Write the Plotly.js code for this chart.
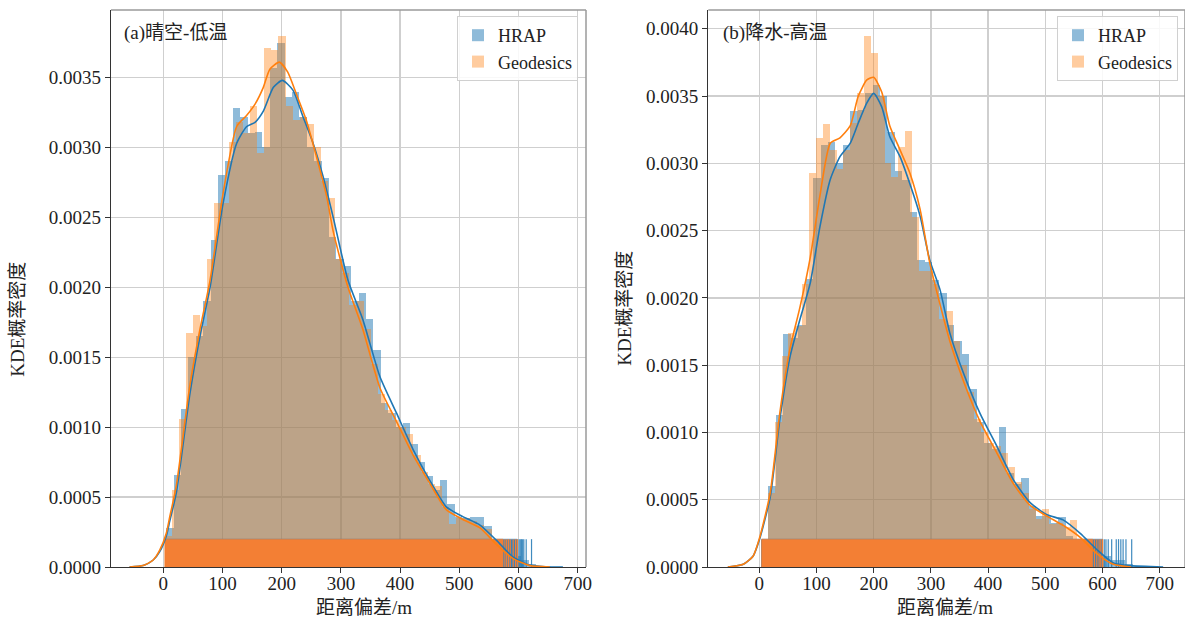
<!DOCTYPE html>
<html><head><meta charset="utf-8">
<script src="https://cdn.plot.ly/plotly-3.0.1.min.js"></script>
<style>html,body{margin:0;padding:0;background:#fff;}#chart{width:1185px;height:620px;}</style>
</head><body><div id="chart"></div>
<script>
// ---------------- data ----------------
const seriesNames = ['HRAP', 'Geodesics'];
const panelLabels = ['(a)晴空-低温', '(b)降水-高温'];
const xTitle = '距离偏差/m';
const yTitle = 'KDE概率密度';
const xTickVals = [0, 100, 200, 300, 400, 500, 600, 700];

// Panel (a): histogram bins (first left edge, bin width) and densities
const aHrapStart = 5, aHrapWidth = 12.5;
const aHrapDensity = [0.00028,0.00066,0.00113,0.0015,0.00165,0.0019,0.00234,0.0028,0.0029,0.00328,
  0.00322,0.0031,0.00311,0.0030,0.00357,0.00375,0.00336,0.0034,0.00322,0.0030,
  0.0029,0.00278,0.00236,0.0022,0.00215,0.0019,0.00196,0.00177,0.00155,0.00117,
  0.0011,0.0010,0.00103,0.00088,0.00075,0.00065,0.00055,0.00062,0.00045,0.00036,
  0.00035,0.00036,0.00036,0.00029,0.00018,0.00012,0.00008,0.00008,0.00005,0.00002];
const aGeoStart = 2.5, aGeoWidth = 12;
const aGeoDensity = [0.00022,0.00055,0.00106,0.00167,0.0018,0.00172,0.0022,0.0026,0.0026,0.00304,
  0.00318,0.0031,0.0033,0.00296,0.00371,0.0037,0.0038,0.0033,0.0032,0.00322,
  0.00317,0.0030,0.00276,0.00264,0.0022,0.0021,0.00187,0.0019,0.0017,0.00145,
  0.00124,0.00112,0.00105,0.0010,0.00095,0.0008,0.00068,0.00059,0.00058,0.00043,
  0.00031,0.00035,0.00035,0.00033,0.0003,0.00027,0.00018,0.0001,0.00008,0.00005];

// Panel (a): KDE curves
const aHrapKdeX = [-57,-34,-17,-6,5,11,22,45,62,79,101,124,141,155,169,186,201,219,236,253,270,287,312,337,366,394,422,450,478,506,535,563,591,619,645,675];
const aHrapKdeY = [0,0.00001,0.00005,0.00011,0.00022,0.00033,0.00053,0.00124,0.00165,0.002,0.0026,0.00303,0.00315,0.00318,0.00326,0.00343,0.00348,0.00341,0.00322,0.00303,0.00279,0.0025,0.00205,0.00177,0.00136,0.0011,0.00084,0.00062,0.00043,0.00036,0.0003,0.00019,0.00007,0.000014,0.000002,0];
const aGeoKdeX = [-57,-34,-17,-6,5,11,22,45,62,79,101,124,141,155,169,180,196,210,225,242,259,276,287,312,337,366,394,422,450,478,506,535,563,591,619,653];
const aGeoKdeY = [0,0.00001,0.00005,0.00012,0.00024,0.00036,0.00058,0.0013,0.0017,0.00205,0.00267,0.00315,0.00323,0.00331,0.00343,0.00356,0.00361,0.00354,0.00338,0.00319,0.00293,0.00265,0.0024,0.002,0.0017,0.00128,0.00104,0.0008,0.0006,0.00041,0.00034,0.00028,0.00016,0.00006,0.00001,0];

// Panel (a): rug (dense span + sparse tail observations)
const aHrapRugSpan = [5, 598];
const aHrapRugTail = [601,603,605,607,609,613,622];
const aGeoRugSpan = [2.5, 574];
const aGeoRugTail = [577,580,583,586,591,595,598];

// Panel (b): histograms
const bHrapStart = 3, bHrapWidth = 13;
const bHrapDensity = [0.0002,0.0006,0.00113,0.00173,0.0017,0.0018,0.00214,0.00289,0.00314,0.00316,
  0.0030,0.00314,0.00339,0.0034,0.00352,0.00358,0.0035,0.00323,0.00294,0.00288,
  0.00264,0.00228,0.00227,0.00213,0.00204,0.0018,0.00168,0.00158,0.00132,0.00108,
  0.00092,0.00088,0.00104,0.0007,0.00062,0.00066,0.00045,0.00038,0.00038,0.00033,
  0.00037,0.00023,0.0002,0.00012,0.0001,0.00006,0.00008,0.00005,0.00005,0.00002];
const bGeoStart = 3, bGeoWidth = 12;
const bGeoDensity = [0.0002,0.00055,0.00108,0.00157,0.00174,0.00179,0.0021,0.00293,0.00319,0.00329,
  0.0031,0.00296,0.0031,0.0033,0.00352,0.00395,0.00382,0.0035,0.0030,0.0029,
  0.00312,0.00324,0.0026,0.0022,0.0022,0.0021,0.00184,0.0019,0.00168,0.0015,
  0.0013,0.0011,0.0010,0.00092,0.0009,0.00085,0.00074,0.00063,0.00055,0.00043,
  0.00036,0.00043,0.00032,0.00033,0.0003,0.00035,0.00018,0.00012,0.00008,0.00005];

// Panel (b): KDE curves
const bHrapKdeX = [-55,-28,-11,0,19,36,54,71,89,106,124,141,159,173,188,200,214,228,246,263,281,298,316,333,357,386,415,444,473,502,531,561,590,619,648,706];
const bHrapKdeY = [0,0.00002,0.00008,0.0002,0.00052,0.0011,0.00157,0.00184,0.00211,0.00253,0.00288,0.00305,0.00315,0.0033,0.00345,0.00352,0.00342,0.0032,0.00305,0.00285,0.00261,0.00228,0.00206,0.00174,0.00144,0.00114,0.0009,0.00065,0.00048,0.00039,0.00035,0.00025,0.00013,0.00003,0.00001,0];
const bGeoKdeX = [-55,-28,-11,0,19,36,54,71,89,106,124,141,159,173,188,200,214,228,246,263,281,298,313,333,357,386,415,444,473,502,531,561,590,619,650];
const bGeoKdeY = [0,0.00002,0.00008,0.00021,0.00055,0.00115,0.00163,0.00193,0.0023,0.00276,0.00315,0.00319,0.00328,0.0035,0.00362,0.00364,0.00353,0.00328,0.0031,0.00293,0.00266,0.00226,0.002,0.00168,0.00138,0.00108,0.00085,0.00062,0.00046,0.00038,0.00031,0.00022,0.0001,0.00002,0];

// Panel (b): rug
const bHrapRugSpan = [4, 600];
const bHrapRugTail = [603,606,610,616,624,628,632,636,641,651];
const bGeoRugSpan = [4, 583];
const bGeoRugTail = [586,590,594,597,600];

// ---------------- styles ----------------
const FONT = '"Liberation Serif", "Noto Sans CJK SC", serif';
const BLUE = '#1f77b4', ORANGE = '#ff7f0e';
const BLUE_FILL = 'rgba(31,119,180,0.5)', ORANGE_FILL = 'rgba(255,127,14,0.4)';
const RUG_ORANGE = 'rgb(243,127,52)', RUG_BLUE = 'rgba(31,119,180,0.85)';
const W = 1185, H = 620, MT = 10, MB = 52.5;
const plotH = H - MT - MB;
const px2x = px => px / W;
const py2y = py => 1 - (py - MT) / plotH;

const panels = [
  {xa:'x', ya:'y', legend:'legend', yMax:0.003983, xRange:[-88.3, 714], dom:[111/W, 586/W],
   hist:[[aHrapStart,aHrapWidth,aHrapDensity],[aGeoStart,aGeoWidth,aGeoDensity]],
   kde:[[aHrapKdeX,aHrapKdeY],[aGeoKdeX,aGeoKdeY]],
   rug:[[aHrapRugSpan,aHrapRugTail],[aGeoRugSpan,aGeoRugTail]]},
  {xa:'x2', ya:'y2', legend:'legend2', yMax:0.00414, xRange:[-89.2, 744.2], dom:[708.3/W, 1],
   hist:[[bHrapStart,bHrapWidth,bHrapDensity],[bGeoStart,bGeoWidth,bGeoDensity]],
   kde:[[bHrapKdeX,bHrapKdeY],[bGeoKdeX,bGeoKdeY]],
   rug:[[bHrapRugSpan,bHrapRugTail],[bGeoRugSpan,bGeoRugTail]]}
];

const fills = [BLUE_FILL, ORANGE_FILL];
const lines = [BLUE, ORANGE];
const rugCols = [RUG_BLUE, RUG_ORANGE];

const traces = [];
panels.forEach(p => {
  const rugH = 0.05 * p.yMax;
  p.hist.forEach(([start, width, dens], s) => {
    traces.push({type:'bar', x: dens.map((_, i) => start + width * (i + 0.5)), y: dens,
      width: width, name: seriesNames[s], xaxis: p.xa, yaxis: p.ya, legend: p.legend,
      marker:{color: fills[s], line:{width:0}}, hoverinfo:'skip'});
  });
  p.rug.forEach(([span, tail], s) => {
    traces.push({type:'scatter', mode:'lines', x:[span[0], span[0], span[1], span[1], span[0]],
      y:[0, rugH, rugH, 0, 0], fill:'toself', fillcolor: s ? RUG_ORANGE : 'rgb(60,130,185)',
      line:{width:0.5, color: s ? RUG_ORANGE : 'rgb(60,130,185)'}, showlegend:false,
      xaxis:p.xa, yaxis:p.ya, hoverinfo:'skip'});
    const xs = [], ys = [];
    tail.forEach(v => { xs.push(v, v, null); ys.push(0, rugH, null); });
    traces.push({type:'scatter', mode:'lines', x: xs, y: ys, line:{width:1.2, color: rugCols[s]},
      showlegend:false, xaxis:p.xa, yaxis:p.ya, hoverinfo:'skip'});
  });
  p.kde.forEach(([kx, ky], s) => {
    traces.push({type:'scatter', mode:'lines', x: kx, y: ky, line:{color: lines[s], width:1.6, shape:'spline', smoothing:0.6},
      showlegend:false, xaxis:p.xa, yaxis:p.ya, hoverinfo:'skip'});
  });
});

const axisBase = {showgrid:true, gridcolor:'#cfcfcf', gridwidth:1.3, zeroline:false,
  showline:true, linecolor:'#333', linewidth:1.2, ticks:'outside', ticklen:5, tickcolor:'#333',
  tickfont:{family:FONT, size:19, color:'#222'}, fixedrange:true};

const legendBase = {bgcolor:'rgba(255,255,255,0.85)', bordercolor:'#d0d0d0', borderwidth:1,
  font:{family:FONT, size:18, color:'#222'}, yanchor:'top', xanchor:'right', tracegroupgap:0, itemwidth:30};

const annotations = [
  {text: panelLabels[0], xref:'paper', yref:'paper', x:px2x(122), y:py2y(33), xanchor:'left', yanchor:'middle', showarrow:false, font:{family:FONT, size:19, color:'#222'}},
  {text: panelLabels[1], xref:'paper', yref:'paper', x:px2x(721), y:py2y(33), xanchor:'left', yanchor:'middle', showarrow:false, font:{family:FONT, size:19, color:'#222'}},
  {text: xTitle, xref:'paper', yref:'paper', x:px2x(364), y:py2y(608), xanchor:'center', yanchor:'middle', showarrow:false, font:{family:FONT, size:19, color:'#222'}},
  {text: xTitle, xref:'paper', yref:'paper', x:px2x(945), y:py2y(608), xanchor:'center', yanchor:'middle', showarrow:false, font:{family:FONT, size:19, color:'#222'}},
  {text: yTitle, xref:'paper', yref:'paper', x:px2x(18), y:py2y(320), xanchor:'center', yanchor:'middle', textangle:-90, showarrow:false, font:{family:FONT, size:19, color:'#222'}},
  {text: yTitle, xref:'paper', yref:'paper', x:px2x(625), y:py2y(309), xanchor:'center', yanchor:'middle', textangle:-90, showarrow:false, font:{family:FONT, size:19, color:'#222'}}
];

const shapes = [];
[['x domain','y domain'],['x2 domain','y2 domain']].forEach(([xr, yr]) => {
  shapes.push({type:'line', xref:xr, yref:yr, x0:0, x1:1, y0:1, y1:1, line:{color:'#9a9a9a', width:1.5}, layer:'above'});
  shapes.push({type:'line', xref:xr, yref:yr, x0:1, x1:1, y0:0, y1:1, line:{color:'#9a9a9a', width:1.5}, layer:'above'});
});

const xExtra = {tickvals:xTickVals, ticklabelstandoff:-6};
const layout = {
  width:W, height:H, margin:{l:0, r:0, t:MT, b:MB, pad:0},
  paper_bgcolor:'#fff', plot_bgcolor:'#fff',
  font:{family:FONT, size:19, color:'#222'},
  barmode:'overlay', bargap:0, showlegend:true,
  xaxis: Object.assign({}, axisBase, xExtra, {domain:panels[0].dom, range:panels[0].xRange, anchor:'y'}),
  yaxis: Object.assign({}, axisBase, {domain:[0,1], range:[0, panels[0].yMax], tick0:0, dtick:0.0005, tickformat:'.4f', anchor:'x'}),
  xaxis2: Object.assign({}, axisBase, xExtra, {domain:panels[1].dom, range:panels[1].xRange, anchor:'y2'}),
  yaxis2: Object.assign({}, axisBase, {domain:[0,1], range:[0, panels[1].yMax], tick0:0, dtick:0.0005, tickformat:'.4f', anchor:'x2'}),
  legend: Object.assign({}, legendBase, {x:px2x(578), y:py2y(16)}),
  legend2: Object.assign({}, legendBase, {x:px2x(1178), y:py2y(16)}),
  annotations: annotations,
  shapes: shapes
};

Plotly.newPlot('chart', traces, layout, {displayModeBar:false, staticPlot:true});
</script>
</body></html>
